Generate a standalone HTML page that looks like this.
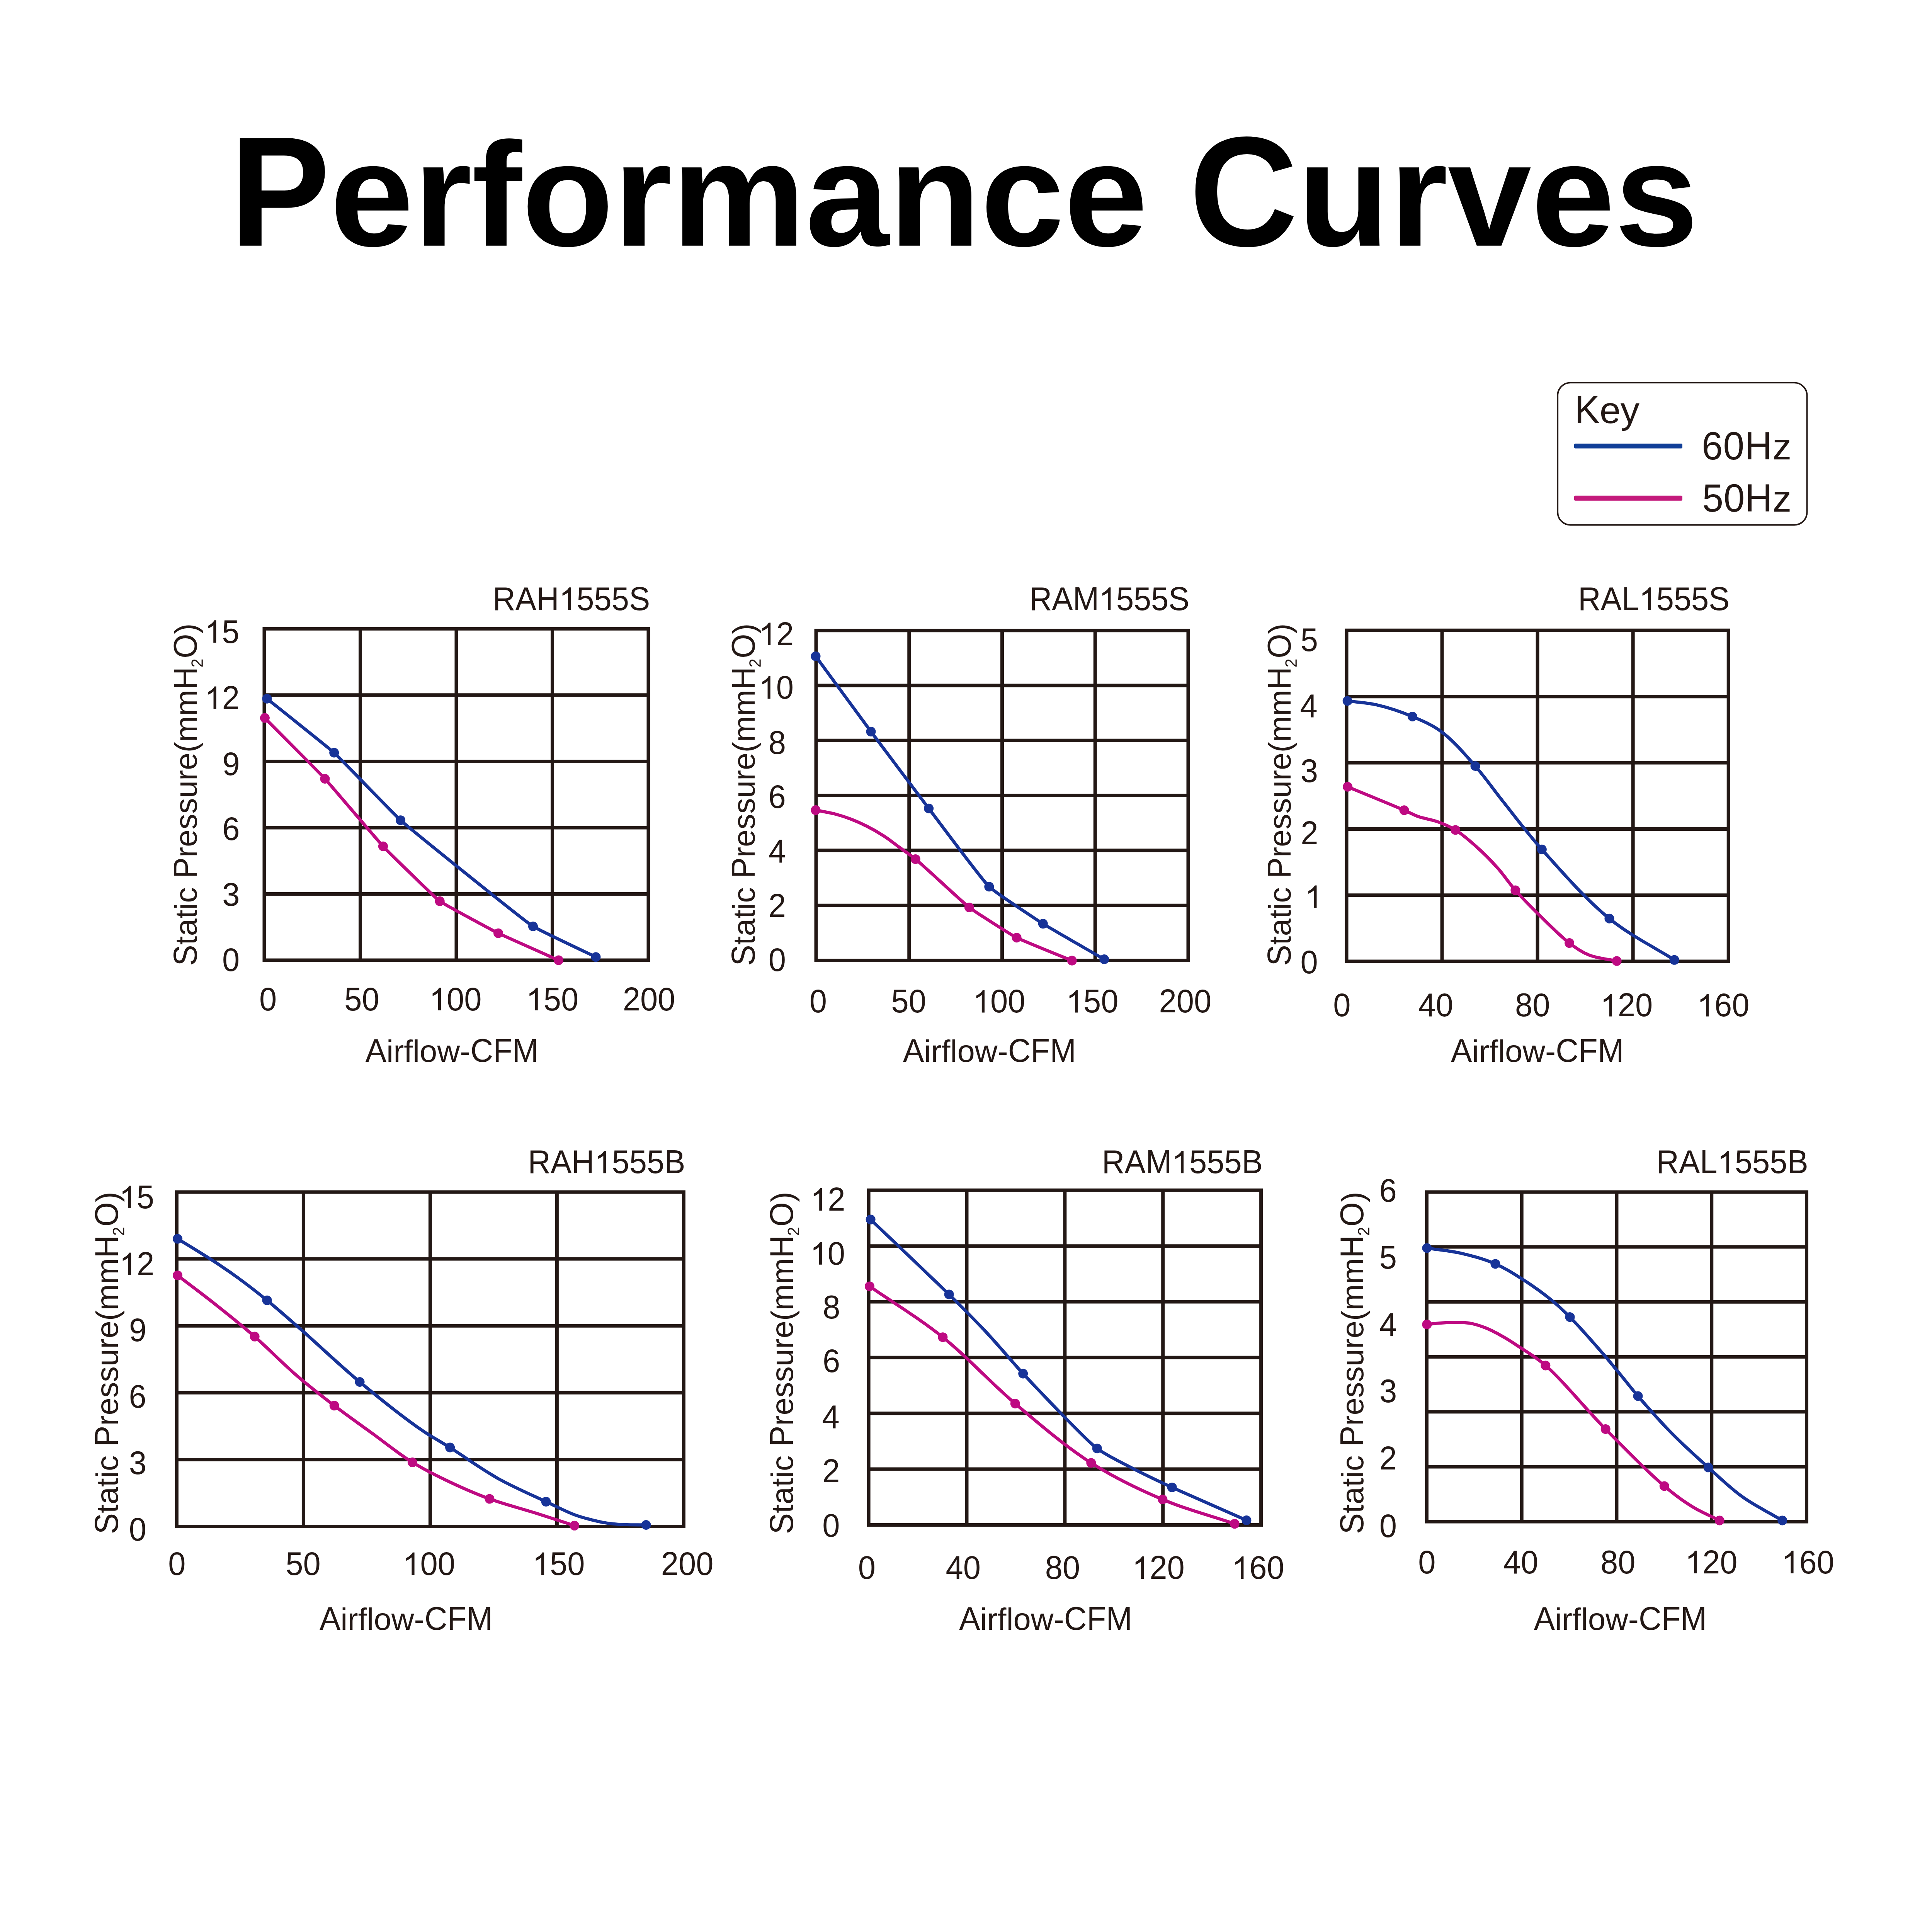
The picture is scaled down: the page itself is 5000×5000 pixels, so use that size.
<!DOCTYPE html>
<html><head><meta charset="utf-8"><title>Performance Curves</title><style>
html,body{margin:0;padding:0;background:#fff;width:5000px;height:5000px;overflow:hidden;}
svg{display:block;}
text{font-family:"Liberation Sans",sans-serif;font-kerning:none;}
</style></head><body>
<svg width="5000" height="5000" viewBox="0 0 5000 5000">
<rect width="5000" height="5000" fill="#fff"/>
<g transform="translate(594.78 635.8) scale(1 1.0405)"><text font-size="389" font-weight="bold" letter-spacing="-0.28" fill="#000">P</text></g><g transform="translate(853.96 635.8) scale(1 0.9850)"><text font-size="389" font-weight="bold" letter-spacing="-0.28" fill="#000">erformance </text></g><g transform="translate(3077.72 635.8) scale(1 1.0405)"><text font-size="389" font-weight="bold" letter-spacing="-0.28" fill="#000">C</text></g><g transform="translate(3358.36 635.8) scale(1 0.9850)"><text font-size="389" font-weight="bold" letter-spacing="-0.28" fill="#000">urves</text></g>
<g fill="#231815" font-size="81.4">
<rect x="4031.2" y="990.4" width="645.3" height="368.1" rx="33" ry="33" fill="none" stroke="#231815" stroke-width="3.9"/>
<g transform="translate(4074.94 1094.7) scale(1 1.0405)"><text font-size="98.3" letter-spacing="-0.76">K</text></g><g transform="translate(4139.74 1094.7) scale(1 0.9850)"><text font-size="98.3" letter-spacing="-0.76">ey</text></g>
<g transform="translate(4404.01 1188.6) scale(1 1.0405)"><text font-size="98.3" letter-spacing="0.94">60H</text></g><g transform="translate(4587.15 1188.6) scale(1 0.9850)"><text font-size="98.3" letter-spacing="0.94">z</text></g>
<g transform="translate(4405.56 1323.9) scale(1 1.0405)"><text font-size="98.3" letter-spacing="0.42">50H</text></g><g transform="translate(4587.15 1323.9) scale(1 0.9850)"><text font-size="98.3" letter-spacing="0.42">z</text></g>
<rect x="4074" y="1147.9" width="280" height="12.7" rx="3" fill="#113f98"/>
<rect x="4074" y="1282.8" width="280" height="12.9" rx="3" fill="#c41a7c"/>
<g>
<path d="M684 1622.8V2489.5 M932.5 1622.8V2489.5 M1181 1622.8V2489.5 M1429.5 1622.8V2489.5 M1678 1622.8V2489.5 M679.5 1627.3H1682.5 M679.5 1798.84H1682.5 M679.5 1970.38H1682.5 M679.5 2141.92H1682.5 M679.5 2313.46H1682.5 M679.5 2485H1682.5" stroke="#231815" stroke-width="9.0" fill="none"/>
<path d="M685.4 1858.1 C698.37 1871.22 828.37 2001.81 841 2015.5 C853.89 2029.47 978.63 2176.66 991.4 2190.2 C1003.42 2202.95 1125.19 2322.71 1138.2 2332.3 C1150.16 2341.11 1276.76 2408.82 1289.6 2415.2 C1302.38 2421.55 1432.6 2479.28 1445.6 2485.1" stroke="#be0a82" stroke-width="8.2" fill="none" stroke-linejoin="round"/>
<circle cx="685.4" cy="1858.1" r="12.5" fill="#be0a82"/>
<circle cx="841" cy="2015.5" r="12.5" fill="#be0a82"/>
<circle cx="991.4" cy="2190.2" r="12.5" fill="#be0a82"/>
<circle cx="1138.2" cy="2332.3" r="12.5" fill="#be0a82"/>
<circle cx="1289.6" cy="2415.2" r="12.5" fill="#be0a82"/>
<circle cx="1445.6" cy="2485.1" r="12.5" fill="#be0a82"/>
<path d="M691 1808.2 C705.48 1819.85 850.62 1935.26 864.7 1948 C879.46 1961.36 1019.28 2107.05 1036.6 2122.7 C1059.8 2143.65 1355.47 2382.28 1379.5 2397.5 C1394.91 2407.26 1528.46 2470.1 1542 2476.7" stroke="#173398" stroke-width="8.2" fill="none" stroke-linejoin="round"/>
<circle cx="691" cy="1808.2" r="12.5" fill="#173398"/>
<circle cx="864.7" cy="1948" r="12.5" fill="#173398"/>
<circle cx="1036.6" cy="2122.7" r="12.5" fill="#173398"/>
<circle cx="1379.5" cy="2397.5" r="12.5" fill="#173398"/>
<circle cx="1542" cy="2476.7" r="12.5" fill="#173398"/>
<g transform="translate(529.06 1663.6) scale(1 1.0405)"><text> 5</text><path transform="translate(0 0) scale(0.039746 -0.038045)" d="M763 0L583 0L583 1147Q518 1085 412.5 1023Q307 961 223 930L223 1104Q374 1175 487 1276Q600 1377 647 1472L763 1472Z"/></g>
<g transform="translate(529.39 1834.7) scale(1 1.0405)"><text> 2</text><path transform="translate(0 0) scale(0.039746 -0.038045)" d="M763 0L583 0L583 1147Q518 1085 412.5 1023Q307 961 223 930L223 1104Q374 1175 487 1276Q600 1377 647 1472L763 1472Z"/></g>
<g transform="translate(575.58 2005.5) scale(1 1.0405)"><text>9</text></g>
<g transform="translate(575.31 2174.3) scale(1 1.0405)"><text>6</text></g>
<g transform="translate(575.31 2344.3) scale(1 1.0405)"><text>3</text></g>
<g transform="translate(574.91 2513) scale(1 1.0405)"><text>0</text></g>
<g transform="translate(670.96 2614.6) scale(1 1.0405)"><text>0</text></g>
<g transform="translate(891.29 2614.6) scale(1 1.0405)"><text>50</text></g>
<g transform="translate(1110.75 2614.6) scale(1 1.0405)"><text> 00</text><path transform="translate(0 0) scale(0.039746 -0.038045)" d="M763 0L583 0L583 1147Q518 1085 412.5 1023Q307 961 223 930L223 1104Q374 1175 487 1276Q600 1377 647 1472L763 1472Z"/></g>
<g transform="translate(1361.45 2614.6) scale(1 1.0405)"><text> 50</text><path transform="translate(0 0) scale(0.039746 -0.038045)" d="M763 0L583 0L583 1147Q518 1085 412.5 1023Q307 961 223 930L223 1104Q374 1175 487 1276Q600 1377 647 1472L763 1472Z"/></g>
<g transform="translate(1611.64 2614.6) scale(1 1.0405)"><text>200</text></g>
<g transform="translate(1274.92 1578.6) scale(1 1.0405)"><text letter-spacing="0.03">RAH 555S</text><path transform="translate(171.94 0) scale(0.039746 -0.038045)" d="M763 0L583 0L583 1147Q518 1085 412.5 1023Q307 961 223 930L223 1104Q374 1175 487 1276Q600 1377 647 1472L763 1472Z"/></g>
<g transform="translate(945.74 2747.6) scale(1 1.0405)"><text letter-spacing="0.04">A</text></g><g transform="translate(1000.07 2747.6) scale(1 0.9850)"><text letter-spacing="0.04">irflow</text></g><g transform="translate(1190.24 2747.6) scale(1 0.9900)"><text letter-spacing="0.04">-</text></g><g transform="translate(1217.39 2747.6) scale(1 1.0405)"><text letter-spacing="0.04">CFM</text></g>
<g transform="translate(508.6 2499.5) rotate(-90)"><g transform="translate(0 0) scale(1 1.0405)"><text>S</text></g><g transform="translate(54.29 0) scale(1 0.9850)"><text>tatic </text></g><g transform="translate(226.2 0) scale(1 1.0405)"><text>P</text></g><g transform="translate(280.49 0) scale(1 0.9850)"><text>ressure</text></g><g transform="translate(551.91 0) scale(1 0.9900)"><text>(</text></g><g transform="translate(579.02 0) scale(1 0.9850)"><text>mm</text></g><g transform="translate(714.63 0) scale(1 1.0405)"><text>H</text></g><path transform="translate(772.25 16.2) scale(0.019873 -0.020677)" d="M103 0V127Q154 244 227.5 333.5Q301 423 382.0 495.5Q463 568 542.5 630.0Q622 692 686.0 754.0Q750 816 789.5 884.0Q829 952 829 1038Q829 1154 761.0 1218.0Q693 1282 572 1282Q457 1282 382.5 1219.5Q308 1157 295 1044L111 1061Q131 1230 254.5 1330.0Q378 1430 572 1430Q785 1430 899.5 1329.5Q1014 1229 1014 1044Q1014 962 976.5 881.0Q939 800 865.0 719.0Q791 638 582 468Q467 374 399.0 298.5Q331 223 301 153H1036V0Z"/><g transform="translate(795.64 0) scale(1 1.0405)"><text>O</text></g><g transform="translate(858.96 0) scale(1 0.9900)"><text>)</text></g></g>
</g>
<g>
<path d="M2112 1627.3V2489.9 M2352.75 1627.3V2489.9 M2593.5 1627.3V2489.9 M2834.25 1627.3V2489.9 M3075 1627.3V2489.9 M2107.5 1631.8H3079.5 M2107.5 1774.07H3079.5 M2107.5 1916.33H3079.5 M2107.5 2058.6H3079.5 M2107.5 2200.87H3079.5 M2107.5 2343.13H3079.5 M2107.5 2485.4H3079.5" stroke="#231815" stroke-width="9.0" fill="none"/>
<path d="M2111 2096.6 C2128.03 2100.03 2146.08 2102.69 2162.1 2106.9 C2176.74 2110.75 2189.84 2115.12 2203.5 2120.4 C2217.45 2125.79 2231.27 2132.04 2244.9 2139 C2258.88 2146.14 2272.73 2154 2286.3 2162.8 C2300.35 2171.91 2313.89 2182.82 2327.7 2192.9 C2341.56 2203.02 2357.07 2213.46 2369.3 2223.4 C2392.59 2242.33 2492.17 2336.06 2508.4 2348.4 C2522.72 2359.28 2615.87 2418.76 2631.1 2426.7 C2646.82 2434.9 2757.5 2479.17 2774.2 2486.1" stroke="#be0a82" stroke-width="8.2" fill="none" stroke-linejoin="round"/>
<circle cx="2111" cy="2096.6" r="12.5" fill="#be0a82"/>
<circle cx="2369.3" cy="2223.4" r="12.5" fill="#be0a82"/>
<circle cx="2508.4" cy="2348.4" r="12.5" fill="#be0a82"/>
<circle cx="2631.1" cy="2426.7" r="12.5" fill="#be0a82"/>
<circle cx="2774.2" cy="2486.1" r="12.5" fill="#be0a82"/>
<path d="M2111 1698.4 C2127.68 1721.14 2237.06 1870.5 2254 1893.3 C2271.19 1916.44 2385.89 2068.94 2403.6 2092.2 C2421.56 2115.77 2540.59 2276.52 2559.8 2294.7 C2575.43 2309.49 2682.29 2379.84 2699.3 2390.6 C2716.99 2401.79 2839.22 2471.87 2857.7 2482.6" stroke="#173398" stroke-width="8.2" fill="none" stroke-linejoin="round"/>
<circle cx="2111" cy="1698.4" r="12.5" fill="#173398"/>
<circle cx="2254" cy="1893.3" r="12.5" fill="#173398"/>
<circle cx="2403.6" cy="2092.2" r="12.5" fill="#173398"/>
<circle cx="2559.8" cy="2294.7" r="12.5" fill="#173398"/>
<circle cx="2699.3" cy="2390.6" r="12.5" fill="#173398"/>
<circle cx="2857.7" cy="2482.6" r="12.5" fill="#173398"/>
<g transform="translate(1963.84 1669.7) scale(1 1.0405)"><text> 2</text><path transform="translate(0 0) scale(0.039746 -0.038045)" d="M763 0L583 0L583 1147Q518 1085 412.5 1023Q307 961 223 930L223 1104Q374 1175 487 1276Q600 1377 647 1472L763 1472Z"/></g>
<g transform="translate(1963.39 1808.3) scale(1 1.0405)"><text> 0</text><path transform="translate(0 0) scale(0.039746 -0.038045)" d="M763 0L583 0L583 1147Q518 1085 412.5 1023Q307 961 223 930L223 1104Q374 1175 487 1276Q600 1377 647 1472L763 1472Z"/></g>
<g transform="translate(1988.86 1950.5) scale(1 1.0405)"><text>8</text></g>
<g transform="translate(1988.59 2090.7) scale(1 1.0405)"><text>6</text></g>
<g transform="translate(1989.12 2231.7) scale(1 1.0405)"><text>4</text></g>
<g transform="translate(1988.86 2372.5) scale(1 1.0405)"><text>2</text></g>
<g transform="translate(1988.86 2513.2) scale(1 1.0405)"><text>0</text></g>
<g transform="translate(2094.76 2620.4) scale(1 1.0405)"><text>0</text></g>
<g transform="translate(2306.59 2620.4) scale(1 1.0405)"><text>50</text></g>
<g transform="translate(2517.65 2620.4) scale(1 1.0405)"><text> 00</text><path transform="translate(0 0) scale(0.039746 -0.038045)" d="M763 0L583 0L583 1147Q518 1085 412.5 1023Q307 961 223 930L223 1104Q374 1175 487 1276Q600 1377 647 1472L763 1472Z"/></g>
<g transform="translate(2758.85 2620.4) scale(1 1.0405)"><text> 50</text><path transform="translate(0 0) scale(0.039746 -0.038045)" d="M763 0L583 0L583 1147Q518 1085 412.5 1023Q307 961 223 930L223 1104Q374 1175 487 1276Q600 1377 647 1472L763 1472Z"/></g>
<g transform="translate(2999.54 2620.4) scale(1 1.0405)"><text>200</text></g>
<g transform="translate(2663.82 1578.6) scale(1 1.0405)"><text letter-spacing="-0.24">RAM 555S</text><path transform="translate(180.18 0) scale(0.039746 -0.038045)" d="M763 0L583 0L583 1147Q518 1085 412.5 1023Q307 961 223 930L223 1104Q374 1175 487 1276Q600 1377 647 1472L763 1472Z"/></g>
<g transform="translate(2337.04 2747.6) scale(1 1.0405)"><text letter-spacing="0.04">A</text></g><g transform="translate(2391.37 2747.6) scale(1 0.9850)"><text letter-spacing="0.04">irflow</text></g><g transform="translate(2581.54 2747.6) scale(1 0.9900)"><text letter-spacing="0.04">-</text></g><g transform="translate(2608.69 2747.6) scale(1 1.0405)"><text letter-spacing="0.04">CFM</text></g>
<g transform="translate(1952.5 2499.5) rotate(-90)"><g transform="translate(0 0) scale(1 1.0405)"><text>S</text></g><g transform="translate(54.29 0) scale(1 0.9850)"><text>tatic </text></g><g transform="translate(226.2 0) scale(1 1.0405)"><text>P</text></g><g transform="translate(280.49 0) scale(1 0.9850)"><text>ressure</text></g><g transform="translate(551.91 0) scale(1 0.9900)"><text>(</text></g><g transform="translate(579.02 0) scale(1 0.9850)"><text>mm</text></g><g transform="translate(714.63 0) scale(1 1.0405)"><text>H</text></g><path transform="translate(772.25 16.2) scale(0.019873 -0.020677)" d="M103 0V127Q154 244 227.5 333.5Q301 423 382.0 495.5Q463 568 542.5 630.0Q622 692 686.0 754.0Q750 816 789.5 884.0Q829 952 829 1038Q829 1154 761.0 1218.0Q693 1282 572 1282Q457 1282 382.5 1219.5Q308 1157 295 1044L111 1061Q131 1230 254.5 1330.0Q378 1430 572 1430Q785 1430 899.5 1329.5Q1014 1229 1014 1044Q1014 962 976.5 881.0Q939 800 865.0 719.0Q791 638 582 468Q467 374 399.0 298.5Q331 223 301 153H1036V0Z"/><g transform="translate(795.64 0) scale(1 1.0405)"><text>O</text></g><g transform="translate(858.96 0) scale(1 0.9900)"><text>)</text></g></g>
</g>
<g>
<path d="M3485 1626.8V2492.6 M3732.05 1626.8V2492.6 M3979.1 1626.8V2492.6 M4226.15 1626.8V2492.6 M4473.2 1626.8V2492.6 M3480.5 1631.3H4477.7 M3480.5 1802.66H4477.7 M3480.5 1974.02H4477.7 M3480.5 2145.38H4477.7 M3480.5 2316.74H4477.7 M3480.5 2488.1H4477.7" stroke="#231815" stroke-width="9.0" fill="none"/>
<path d="M3487.7 2036.2 C3536.47 2056.4 3601.64 2082.84 3634 2096.8 C3650.22 2103.8 3656.96 2108.33 3670.3 2113.1 C3685.71 2118.61 3705.21 2121.05 3721.5 2127 C3737.29 2132.77 3751.61 2138.68 3766.7 2148 C3784.24 2158.83 3802.01 2174.38 3819.4 2189.9 C3838.24 2206.71 3858.01 2226.47 3875.3 2245.8 C3892.1 2264.58 3904.87 2284.7 3921.9 2304.1 C3940.31 2325.07 3960.56 2345.44 3982.4 2366.9 C4006.73 2390.81 4037.19 2422.11 4061.6 2440.6 C4079.77 2454.37 4093.6 2464.15 4112.8 2471.8 C4133.97 2480.24 4160.33 2482 4184.1 2487.1" stroke="#be0a82" stroke-width="8.2" fill="none" stroke-linejoin="round"/>
<circle cx="3487.7" cy="2036.2" r="12.5" fill="#be0a82"/>
<circle cx="3634" cy="2096.8" r="12.5" fill="#be0a82"/>
<circle cx="3766.7" cy="2148" r="12.5" fill="#be0a82"/>
<circle cx="3921.9" cy="2304.1" r="12.5" fill="#be0a82"/>
<circle cx="4061.6" cy="2440.6" r="12.5" fill="#be0a82"/>
<circle cx="4184.1" cy="2487.1" r="12.5" fill="#be0a82"/>
<path d="M3487.2 1814 C3512.53 1817.43 3536.93 1818.27 3563.2 1824.3 C3592.75 1831.08 3626.67 1842.36 3655.4 1854.5 C3682.33 1865.88 3706.24 1875.8 3730.9 1894.1 C3760.67 1916.18 3791.2 1952.13 3818 1982.6 C3843.85 2011.99 3863.33 2040.91 3889.3 2073.5 C3919.91 2111.92 3950.85 2153.95 3990.3 2198.3 C4039.53 2253.65 4104.36 2327.95 4165 2377.2 C4219.15 2421.18 4277.13 2448.6 4333.2 2484.3" stroke="#173398" stroke-width="8.2" fill="none" stroke-linejoin="round"/>
<circle cx="3487.2" cy="1814" r="12.5" fill="#173398"/>
<circle cx="3655.4" cy="1854.5" r="12.5" fill="#173398"/>
<circle cx="3818" cy="1982.6" r="12.5" fill="#173398"/>
<circle cx="3990.3" cy="2198.3" r="12.5" fill="#173398"/>
<circle cx="4165" cy="2377.2" r="12.5" fill="#173398"/>
<circle cx="4333.2" cy="2484.3" r="12.5" fill="#173398"/>
<g transform="translate(3365.65 1685.2) scale(1 1.0405)"><text>5</text></g>
<g transform="translate(3364.61 1855.5) scale(1 1.0405)"><text>4</text></g>
<g transform="translate(3365.81 2024.4) scale(1 1.0405)"><text>3</text></g>
<g transform="translate(3366.32 2185) scale(1 1.0405)"><text>2</text></g>
<g transform="translate(3377.17 2349.7) scale(1 1.0405)"><text> </text><path transform="translate(0 0) scale(0.039746 -0.038045)" d="M763 0L583 0L583 1147Q518 1085 412.5 1023Q307 961 223 930L223 1104Q374 1175 487 1276Q600 1377 647 1472L763 1472Z"/></g>
<g transform="translate(3365.41 2518.5) scale(1 1.0405)"><text>0</text></g>
<g transform="translate(3450.26 2630.4) scale(1 1.0405)"><text>0</text></g>
<g transform="translate(3670.59 2630.4) scale(1 1.0405)"><text>40</text></g>
<g transform="translate(3921.05 2630.4) scale(1 1.0405)"><text>80</text></g>
<g transform="translate(4141.55 2630.4) scale(1 1.0405)"><text> 20</text><path transform="translate(0 0) scale(0.039746 -0.038045)" d="M763 0L583 0L583 1147Q518 1085 412.5 1023Q307 961 223 930L223 1104Q374 1175 487 1276Q600 1377 647 1472L763 1472Z"/></g>
<g transform="translate(4391.75 2630.4) scale(1 1.0405)"><text> 60</text><path transform="translate(0 0) scale(0.039746 -0.038045)" d="M763 0L583 0L583 1147Q518 1085 412.5 1023Q307 961 223 930L223 1104Q374 1175 487 1276Q600 1377 647 1472L763 1472Z"/></g>
<g transform="translate(4084.02 1578.6) scale(1 1.0405)"><text letter-spacing="-0.19">RAL 555S</text><path transform="translate(157.79 0) scale(0.039746 -0.038045)" d="M763 0L583 0L583 1147Q518 1085 412.5 1023Q307 961 223 930L223 1104Q374 1175 487 1276Q600 1377 647 1472L763 1472Z"/></g>
<g transform="translate(3754.94 2747.6) scale(1 1.0405)"><text letter-spacing="-0.01">A</text></g><g transform="translate(3809.22 2747.6) scale(1 0.9850)"><text letter-spacing="-0.01">irflow</text></g><g transform="translate(3999.09 2747.6) scale(1 0.9900)"><text letter-spacing="-0.01">-</text></g><g transform="translate(4026.19 2747.6) scale(1 1.0405)"><text letter-spacing="-0.01">CFM</text></g>
<g transform="translate(3339.6 2499.5) rotate(-90)"><g transform="translate(0 0) scale(1 1.0405)"><text>S</text></g><g transform="translate(54.29 0) scale(1 0.9850)"><text>tatic </text></g><g transform="translate(226.2 0) scale(1 1.0405)"><text>P</text></g><g transform="translate(280.49 0) scale(1 0.9850)"><text>ressure</text></g><g transform="translate(551.91 0) scale(1 0.9900)"><text>(</text></g><g transform="translate(579.02 0) scale(1 0.9850)"><text>mm</text></g><g transform="translate(714.63 0) scale(1 1.0405)"><text>H</text></g><path transform="translate(772.25 16.2) scale(0.019873 -0.020677)" d="M103 0V127Q154 244 227.5 333.5Q301 423 382.0 495.5Q463 568 542.5 630.0Q622 692 686.0 754.0Q750 816 789.5 884.0Q829 952 829 1038Q829 1154 761.0 1218.0Q693 1282 572 1282Q457 1282 382.5 1219.5Q308 1157 295 1044L111 1061Q131 1230 254.5 1330.0Q378 1430 572 1430Q785 1430 899.5 1329.5Q1014 1229 1014 1044Q1014 962 976.5 881.0Q939 800 865.0 719.0Q791 638 582 468Q467 374 399.0 298.5Q331 223 301 153H1036V0Z"/><g transform="translate(795.64 0) scale(1 1.0405)"><text>O</text></g><g transform="translate(858.96 0) scale(1 0.9900)"><text>)</text></g></g>
</g>
<g>
<path d="M457.4 3080.4V3955 M785.4 3080.4V3955 M1113.4 3080.4V3955 M1441.4 3080.4V3955 M1769.4 3080.4V3955 M452.9 3084.9H1773.9 M452.9 3258.02H1773.9 M452.9 3431.14H1773.9 M452.9 3604.26H1773.9 M452.9 3777.38H1773.9 M452.9 3950.5H1773.9" stroke="#231815" stroke-width="9.0" fill="none"/>
<path d="M459.6 3300.7 C492.2 3325.7 524.69 3349.76 557.4 3375.7 C591.19 3402.5 625.22 3429.55 659.1 3459.1 C694.79 3490.22 730.57 3527.65 766.1 3558.3 C799.25 3586.9 832.1 3612.45 865.2 3637.8 C897.3 3662.38 928.77 3684.38 961.7 3708.3 C996.1 3733.28 1032.85 3763.14 1067.4 3784.6 C1097.93 3803.57 1125.59 3817.01 1157.4 3832.2 C1191.82 3848.63 1229.36 3865.29 1267 3879.1 C1305.42 3893.2 1347.77 3903.73 1385.7 3915.7 C1420.76 3926.76 1453.03 3937.43 1486.7 3948.3" stroke="#be0a82" stroke-width="8.2" fill="none" stroke-linejoin="round"/>
<circle cx="459.6" cy="3300.7" r="12.5" fill="#be0a82"/>
<circle cx="659.1" cy="3459.1" r="12.5" fill="#be0a82"/>
<circle cx="865.2" cy="3637.8" r="12.5" fill="#be0a82"/>
<circle cx="1067.4" cy="3784.6" r="12.5" fill="#be0a82"/>
<circle cx="1267" cy="3879.1" r="12.5" fill="#be0a82"/>
<circle cx="1486.7" cy="3948.3" r="12.5" fill="#be0a82"/>
<path d="M459.6 3206.1 C487.83 3223.5 517.42 3240.88 544.3 3258.3 C569.42 3274.58 592.17 3289.82 616.1 3307.2 C641.1 3325.36 665.38 3344.22 691.1 3365.2 C719.56 3388.42 745.93 3411.84 779.1 3440.9 C823.04 3479.39 878.94 3533.05 931.1 3576.5 C983.3 3619.99 1048.4 3671.39 1092.2 3701.7 C1120.46 3721.26 1137.39 3728.97 1164.6 3746.1 C1200.36 3768.61 1245.82 3802.1 1287.8 3825.7 C1328.7 3848.69 1376.84 3869.19 1413.1 3886.3 C1440.69 3899.32 1465.11 3911.97 1486.3 3920 C1501.82 3925.88 1513.83 3928.9 1527.7 3932.5 C1541.43 3936.06 1555.24 3939.33 1569.1 3941.5 C1582.84 3943.65 1595.32 3944.64 1610.5 3945.5 C1628.96 3946.54 1651.5 3946.17 1672 3946.5" stroke="#173398" stroke-width="8.2" fill="none" stroke-linejoin="round"/>
<circle cx="459.6" cy="3206.1" r="12.5" fill="#173398"/>
<circle cx="691.1" cy="3365.2" r="12.5" fill="#173398"/>
<circle cx="931.1" cy="3576.5" r="12.5" fill="#173398"/>
<circle cx="1164.6" cy="3746.1" r="12.5" fill="#173398"/>
<circle cx="1413.1" cy="3886.3" r="12.5" fill="#173398"/>
<circle cx="1672" cy="3946.5" r="12.5" fill="#173398"/>
<g transform="translate(308.51 3127) scale(1 1.0405)"><text> 5</text><path transform="translate(0 0) scale(0.039746 -0.038045)" d="M763 0L583 0L583 1147Q518 1085 412.5 1023Q307 961 223 930L223 1104Q374 1175 487 1276Q600 1377 647 1472L763 1472Z"/></g>
<g transform="translate(308.84 3300) scale(1 1.0405)"><text> 2</text><path transform="translate(0 0) scale(0.039746 -0.038045)" d="M763 0L583 0L583 1147Q518 1085 412.5 1023Q307 961 223 930L223 1104Q374 1175 487 1276Q600 1377 647 1472L763 1472Z"/></g>
<g transform="translate(333.88 3471) scale(1 1.0405)"><text>9</text></g>
<g transform="translate(333.59 3643) scale(1 1.0405)"><text>6</text></g>
<g transform="translate(334.1 3815) scale(1 1.0405)"><text>3</text></g>
<g transform="translate(333.86 3987) scale(1 1.0405)"><text>0</text></g>
<g transform="translate(435.16 4076) scale(1 1.0405)"><text>0</text></g>
<g transform="translate(739.29 4076) scale(1 1.0405)"><text>50</text></g>
<g transform="translate(1042.25 4076) scale(1 1.0405)"><text> 00</text><path transform="translate(0 0) scale(0.039746 -0.038045)" d="M763 0L583 0L583 1147Q518 1085 412.5 1023Q307 961 223 930L223 1104Q374 1175 487 1276Q600 1377 647 1472L763 1472Z"/></g>
<g transform="translate(1377.85 4076) scale(1 1.0405)"><text> 50</text><path transform="translate(0 0) scale(0.039746 -0.038045)" d="M763 0L583 0L583 1147Q518 1085 412.5 1023Q307 961 223 930L223 1104Q374 1175 487 1276Q600 1377 647 1472L763 1472Z"/></g>
<g transform="translate(1710.74 4076) scale(1 1.0405)"><text>200</text></g>
<g transform="translate(1366.32 3036.3) scale(1 1.0405)"><text letter-spacing="0">RAH 555B</text><path transform="translate(171.88 0) scale(0.039746 -0.038045)" d="M763 0L583 0L583 1147Q518 1085 412.5 1023Q307 961 223 930L223 1104Q374 1175 487 1276Q600 1377 647 1472L763 1472Z"/></g>
<g transform="translate(827.04 4218.2) scale(1 1.0405)"><text letter-spacing="0.04">A</text></g><g transform="translate(881.37 4218.2) scale(1 0.9850)"><text letter-spacing="0.04">irflow</text></g><g transform="translate(1071.54 4218.2) scale(1 0.9900)"><text letter-spacing="0.04">-</text></g><g transform="translate(1098.69 4218.2) scale(1 1.0405)"><text letter-spacing="0.04">CFM</text></g>
<g transform="translate(305.1 3970.2) rotate(-90)"><g transform="translate(0 0) scale(1 1.0405)"><text>S</text></g><g transform="translate(54.29 0) scale(1 0.9850)"><text>tatic </text></g><g transform="translate(226.2 0) scale(1 1.0405)"><text>P</text></g><g transform="translate(280.49 0) scale(1 0.9850)"><text>ressure</text></g><g transform="translate(551.91 0) scale(1 0.9900)"><text>(</text></g><g transform="translate(579.02 0) scale(1 0.9850)"><text>mm</text></g><g transform="translate(714.63 0) scale(1 1.0405)"><text>H</text></g><path transform="translate(772.25 16.2) scale(0.019873 -0.020677)" d="M103 0V127Q154 244 227.5 333.5Q301 423 382.0 495.5Q463 568 542.5 630.0Q622 692 686.0 754.0Q750 816 789.5 884.0Q829 952 829 1038Q829 1154 761.0 1218.0Q693 1282 572 1282Q457 1282 382.5 1219.5Q308 1157 295 1044L111 1061Q131 1230 254.5 1330.0Q378 1430 572 1430Q785 1430 899.5 1329.5Q1014 1229 1014 1044Q1014 962 976.5 881.0Q939 800 865.0 719.0Q791 638 582 468Q467 374 399.0 298.5Q331 223 301 153H1036V0Z"/><g transform="translate(795.64 0) scale(1 1.0405)"><text>O</text></g><g transform="translate(858.96 0) scale(1 0.9900)"><text>)</text></g></g>
</g>
<g>
<path d="M2248.1 3075.8V3950.9 M2501.97 3075.8V3950.9 M2755.85 3075.8V3950.9 M3009.72 3075.8V3950.9 M3263.6 3075.8V3950.9 M2243.6 3080.3H3268.1 M2243.6 3224.65H3268.1 M2243.6 3369H3268.1 M2243.6 3513.35H3268.1 M2243.6 3657.7H3268.1 M2243.6 3802.05H3268.1 M2243.6 3946.4H3268.1" stroke="#231815" stroke-width="9.0" fill="none"/>
<path d="M2250.5 3328.9 C2313.63 3372.83 2378.53 3411.58 2439.9 3460.7 C2504.31 3512.26 2562.98 3578.06 2627.3 3632.5 C2690.99 3686.41 2757.22 3743.43 2823.8 3785.9 C2884.6 3824.69 2946.11 3854.09 3008.9 3880.6 C3069.97 3906.38 3133.1 3922.6 3195.2 3943.6" stroke="#be0a82" stroke-width="8.2" fill="none" stroke-linejoin="round"/>
<circle cx="2250.5" cy="3328.9" r="12.5" fill="#be0a82"/>
<circle cx="2439.9" cy="3460.7" r="12.5" fill="#be0a82"/>
<circle cx="2627.3" cy="3632.5" r="12.5" fill="#be0a82"/>
<circle cx="2823.8" cy="3785.9" r="12.5" fill="#be0a82"/>
<circle cx="3008.9" cy="3880.6" r="12.5" fill="#be0a82"/>
<circle cx="3195.2" cy="3943.6" r="12.5" fill="#be0a82"/>
<path d="M2253.1 3156.1 C2286.93 3188.4 2428.62 3322.83 2456.1 3349.9 C2475.38 3368.89 2521.31 3414.5 2553 3448.4 C2585.19 3482.84 2628.84 3534.89 2647.7 3555 C2673.76 3582.8 2806.53 3723.77 2839.3 3748.7 C2859.51 3764.08 2898.38 3782.92 2929.8 3799.3 C2962.88 3816.54 3013.21 3840.15 3033.2 3849.4 C3060.27 3861.93 3161.67 3906.13 3225.9 3934.5" stroke="#173398" stroke-width="8.2" fill="none" stroke-linejoin="round"/>
<circle cx="2253.1" cy="3156.1" r="12.5" fill="#173398"/>
<circle cx="2456.1" cy="3349.9" r="12.5" fill="#173398"/>
<circle cx="2647.7" cy="3555" r="12.5" fill="#173398"/>
<circle cx="2839.3" cy="3748.7" r="12.5" fill="#173398"/>
<circle cx="3033.2" cy="3849.4" r="12.5" fill="#173398"/>
<circle cx="3225.9" cy="3934.5" r="12.5" fill="#173398"/>
<g transform="translate(2097.04 3133) scale(1 1.0405)"><text> 2</text><path transform="translate(0 0) scale(0.039746 -0.038045)" d="M763 0L583 0L583 1147Q518 1085 412.5 1023Q307 961 223 930L223 1104Q374 1175 487 1276Q600 1377 647 1472L763 1472Z"/></g>
<g transform="translate(2096.59 3272.7) scale(1 1.0405)"><text> 0</text><path transform="translate(0 0) scale(0.039746 -0.038045)" d="M763 0L583 0L583 1147Q518 1085 412.5 1023Q307 961 223 930L223 1104Q374 1175 487 1276Q600 1377 647 1472L763 1472Z"/></g>
<g transform="translate(2129.36 3411.8) scale(1 1.0405)"><text>8</text></g>
<g transform="translate(2129.09 3551.4) scale(1 1.0405)"><text>6</text></g>
<g transform="translate(2127.62 3696) scale(1 1.0405)"><text>4</text></g>
<g transform="translate(2128.36 3836.4) scale(1 1.0405)"><text>2</text></g>
<g transform="translate(2128.36 3977) scale(1 1.0405)"><text>0</text></g>
<g transform="translate(2220.66 4086.2) scale(1 1.0405)"><text>0</text></g>
<g transform="translate(2447.39 4086.2) scale(1 1.0405)"><text>40</text></g>
<g transform="translate(2704.85 4086.2) scale(1 1.0405)"><text>80</text></g>
<g transform="translate(2929.95 4086.2) scale(1 1.0405)"><text> 20</text><path transform="translate(0 0) scale(0.039746 -0.038045)" d="M763 0L583 0L583 1147Q518 1085 412.5 1023Q307 961 223 930L223 1104Q374 1175 487 1276Q600 1377 647 1472L763 1472Z"/></g>
<g transform="translate(3188.05 4086.2) scale(1 1.0405)"><text> 60</text><path transform="translate(0 0) scale(0.039746 -0.038045)" d="M763 0L583 0L583 1147Q518 1085 412.5 1023Q307 961 223 930L223 1104Q374 1175 487 1276Q600 1377 647 1472L763 1472Z"/></g>
<g transform="translate(2851.82 3036.3) scale(1 1.0405)"><text letter-spacing="0">RAM 555B</text><path transform="translate(180.89 0) scale(0.039746 -0.038045)" d="M763 0L583 0L583 1147Q518 1085 412.5 1023Q307 961 223 930L223 1104Q374 1175 487 1276Q600 1377 647 1472L763 1472Z"/></g>
<g transform="translate(2482.14 4218.2) scale(1 1.0405)"><text letter-spacing="0.05">A</text></g><g transform="translate(2536.48 4218.2) scale(1 0.9850)"><text letter-spacing="0.05">irflow</text></g><g transform="translate(2726.71 4218.2) scale(1 0.9900)"><text letter-spacing="0.05">-</text></g><g transform="translate(2753.87 4218.2) scale(1 1.0405)"><text letter-spacing="0.05">CFM</text></g>
<g transform="translate(2051.8 3970.2) rotate(-90)"><g transform="translate(0 0) scale(1 1.0405)"><text>S</text></g><g transform="translate(54.29 0) scale(1 0.9850)"><text>tatic </text></g><g transform="translate(226.2 0) scale(1 1.0405)"><text>P</text></g><g transform="translate(280.49 0) scale(1 0.9850)"><text>ressure</text></g><g transform="translate(551.91 0) scale(1 0.9900)"><text>(</text></g><g transform="translate(579.02 0) scale(1 0.9850)"><text>mm</text></g><g transform="translate(714.63 0) scale(1 1.0405)"><text>H</text></g><path transform="translate(772.25 16.2) scale(0.019873 -0.020677)" d="M103 0V127Q154 244 227.5 333.5Q301 423 382.0 495.5Q463 568 542.5 630.0Q622 692 686.0 754.0Q750 816 789.5 884.0Q829 952 829 1038Q829 1154 761.0 1218.0Q693 1282 572 1282Q457 1282 382.5 1219.5Q308 1157 295 1044L111 1061Q131 1230 254.5 1330.0Q378 1430 572 1430Q785 1430 899.5 1329.5Q1014 1229 1014 1044Q1014 962 976.5 881.0Q939 800 865.0 719.0Q791 638 582 468Q467 374 399.0 298.5Q331 223 301 153H1036V0Z"/><g transform="translate(795.64 0) scale(1 1.0405)"><text>O</text></g><g transform="translate(858.96 0) scale(1 0.9900)"><text>)</text></g></g>
</g>
<g>
<path d="M3692.4 3080.4V3942.6 M3938.18 3080.4V3942.6 M4183.95 3080.4V3942.6 M4429.73 3080.4V3942.6 M4675.5 3080.4V3942.6 M3687.9 3084.9H4680 M3687.9 3227.1H4680 M3687.9 3369.3H4680 M3687.9 3511.5H4680 M3687.9 3653.7H4680 M3687.9 3795.9H4680 M3687.9 3938.1H4680" stroke="#231815" stroke-width="9.0" fill="none"/>
<path d="M3692.9 3427.7 C3702.4 3426.63 3711 3425.35 3721.4 3424.5 C3733.9 3423.48 3749 3422.4 3762.8 3422.4 C3776.6 3422.4 3790.54 3422.14 3804.2 3424.5 C3818.15 3426.91 3832.03 3431.52 3845.6 3436.9 C3859.64 3442.47 3873.38 3449.96 3887 3457.6 C3900.99 3465.45 3912.89 3473.19 3928.4 3483.5 C3949.16 3497.3 3972.86 3510.47 3999.9 3533.9 C4043.38 3571.58 4103.12 3645.6 4155.2 3698.4 C4205.61 3749.51 4265.06 3810.16 4307.3 3846 C4334.64 3869.2 4354.24 3883.71 4378.7 3898.8 C4401.94 3913.13 4426.37 3922.93 4450.2 3935" stroke="#be0a82" stroke-width="8.2" fill="none" stroke-linejoin="round"/>
<circle cx="3692.9" cy="3427.7" r="12.5" fill="#be0a82"/>
<circle cx="3999.9" cy="3533.9" r="12.5" fill="#be0a82"/>
<circle cx="4155.2" cy="3698.4" r="12.5" fill="#be0a82"/>
<circle cx="4307.3" cy="3846" r="12.5" fill="#be0a82"/>
<circle cx="4450.2" cy="3935" r="12.5" fill="#be0a82"/>
<path d="M3692.9 3230 C3723.1 3234.67 3753.9 3237.15 3783.5 3244 C3812.92 3250.81 3842.45 3258.85 3870 3270.9 C3897.66 3282.99 3924.21 3300.31 3949.1 3316.5 C3972.88 3331.96 3996.44 3349.2 4016.4 3365.6 C4033.81 3379.91 4045.69 3391.12 4063 3408.6 C4087.15 3433 4121.66 3472.41 4145.8 3500.2 C4165.33 3522.69 4181.35 3542.61 4197.6 3562.3 C4212.22 3580.02 4222.32 3593.65 4239 3613 C4262.58 3640.36 4296.51 3678.9 4327 3709.8 C4357.26 3740.48 4390.15 3769.92 4421.2 3797.8 C4450.52 3824.13 4476.8 3850.29 4508.2 3872.9 C4540.49 3896.16 4577.87 3914.3 4612.7 3935" stroke="#173398" stroke-width="8.2" fill="none" stroke-linejoin="round"/>
<circle cx="3692.9" cy="3230" r="12.5" fill="#173398"/>
<circle cx="3870" cy="3270.9" r="12.5" fill="#173398"/>
<circle cx="4063" cy="3408.6" r="12.5" fill="#173398"/>
<circle cx="4239" cy="3613" r="12.5" fill="#173398"/>
<circle cx="4421.2" cy="3797.8" r="12.5" fill="#173398"/>
<circle cx="4612.7" cy="3935" r="12.5" fill="#173398"/>
<g transform="translate(3569.49 3109.5) scale(1 1.0405)"><text>6</text></g>
<g transform="translate(3569.84 3282.7) scale(1 1.0405)"><text>5</text></g>
<g transform="translate(3570.02 3456.7) scale(1 1.0405)"><text>4</text></g>
<g transform="translate(3570 3629.2) scale(1 1.0405)"><text>3</text></g>
<g transform="translate(3569.76 3803.2) scale(1 1.0405)"><text>2</text></g>
<g transform="translate(3569.76 3978) scale(1 1.0405)"><text>0</text></g>
<g transform="translate(3670.16 4071.5) scale(1 1.0405)"><text>0</text></g>
<g transform="translate(3890.49 4071.5) scale(1 1.0405)"><text>40</text></g>
<g transform="translate(4142.05 4071.5) scale(1 1.0405)"><text>80</text></g>
<g transform="translate(4360.85 4071.5) scale(1 1.0405)"><text> 20</text><path transform="translate(0 0) scale(0.039746 -0.038045)" d="M763 0L583 0L583 1147Q518 1085 412.5 1023Q307 961 223 930L223 1104Q374 1175 487 1276Q600 1377 647 1472L763 1472Z"/></g>
<g transform="translate(4611.25 4071.5) scale(1 1.0405)"><text> 60</text><path transform="translate(0 0) scale(0.039746 -0.038045)" d="M763 0L583 0L583 1147Q518 1085 412.5 1023Q307 961 223 930L223 1104Q374 1175 487 1276Q600 1377 647 1472L763 1472Z"/></g>
<g transform="translate(4286.32 3036.3) scale(1 1.0405)"><text letter-spacing="-0.02">RAL 555B</text><path transform="translate(158.28 0) scale(0.039746 -0.038045)" d="M763 0L583 0L583 1147Q518 1085 412.5 1023Q307 961 223 930L223 1104Q374 1175 487 1276Q600 1377 647 1472L763 1472Z"/></g>
<g transform="translate(3969.64 4218.2) scale(1 1.0405)"><text letter-spacing="-0.01">A</text></g><g transform="translate(4023.92 4218.2) scale(1 0.9850)"><text letter-spacing="-0.01">irflow</text></g><g transform="translate(4213.79 4218.2) scale(1 0.9900)"><text letter-spacing="-0.01">-</text></g><g transform="translate(4240.89 4218.2) scale(1 1.0405)"><text letter-spacing="-0.01">CFM</text></g>
<g transform="translate(3527.6 3970.2) rotate(-90)"><g transform="translate(0 0) scale(1 1.0405)"><text>S</text></g><g transform="translate(54.29 0) scale(1 0.9850)"><text>tatic </text></g><g transform="translate(226.2 0) scale(1 1.0405)"><text>P</text></g><g transform="translate(280.49 0) scale(1 0.9850)"><text>ressure</text></g><g transform="translate(551.91 0) scale(1 0.9900)"><text>(</text></g><g transform="translate(579.02 0) scale(1 0.9850)"><text>mm</text></g><g transform="translate(714.63 0) scale(1 1.0405)"><text>H</text></g><path transform="translate(772.25 16.2) scale(0.019873 -0.020677)" d="M103 0V127Q154 244 227.5 333.5Q301 423 382.0 495.5Q463 568 542.5 630.0Q622 692 686.0 754.0Q750 816 789.5 884.0Q829 952 829 1038Q829 1154 761.0 1218.0Q693 1282 572 1282Q457 1282 382.5 1219.5Q308 1157 295 1044L111 1061Q131 1230 254.5 1330.0Q378 1430 572 1430Q785 1430 899.5 1329.5Q1014 1229 1014 1044Q1014 962 976.5 881.0Q939 800 865.0 719.0Q791 638 582 468Q467 374 399.0 298.5Q331 223 301 153H1036V0Z"/><g transform="translate(795.64 0) scale(1 1.0405)"><text>O</text></g><g transform="translate(858.96 0) scale(1 0.9900)"><text>)</text></g></g>
</g>
</g>
</svg>
</body></html>
